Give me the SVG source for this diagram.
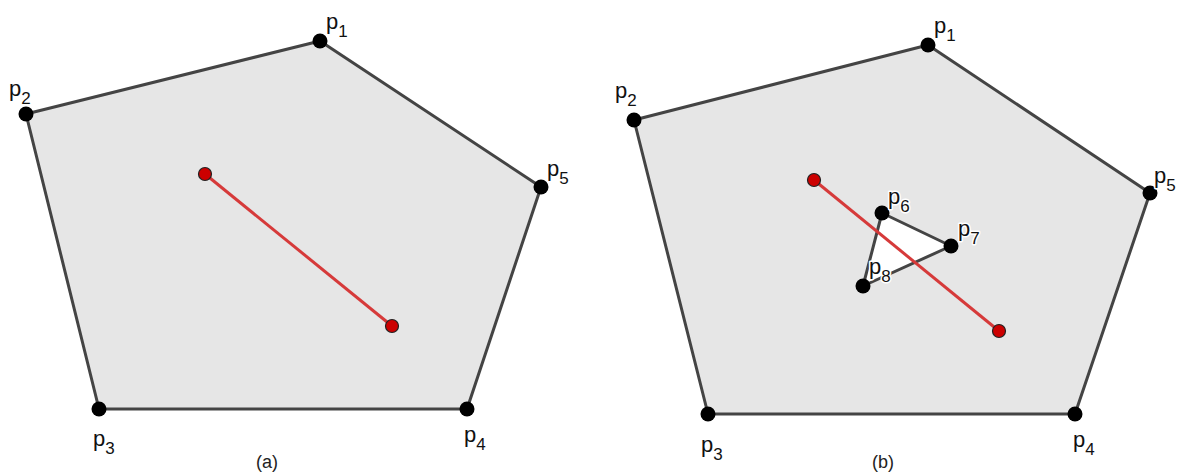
<svg xmlns="http://www.w3.org/2000/svg" width="1180" height="474" viewBox="0 0 1180 474">
<style>
.poly{fill:#e6e6e6;stroke:#444;stroke-width:3;stroke-linejoin:round}
.hole{fill:#fff;stroke:#444;stroke-width:3;stroke-linejoin:round}
.seg{stroke:#d63a3a;stroke-width:3;fill:none}
.v{fill:#000}
.r{fill:#cc0000;stroke:#222;stroke-width:1.2}
.lbl{font-family:"Liberation Sans",Arial,sans-serif;font-size:22px;fill:#111;stroke:#fff;stroke-width:3;paint-order:stroke;stroke-linejoin:round}
.sub{font-size:17px}
.cap{font-family:"Liberation Sans",Arial,sans-serif;font-size:18px;fill:#222;text-anchor:middle}
</style>
<rect width="1180" height="474" fill="#fff"/>
<g id="shapes">
<polygon class="poly" points="320,41 26,114 99,409 467,409 541,187"/>
<polygon class="poly" points="928,45 634,120 708,414 1075,414 1150,193"/>
<polygon class="hole" points="882,213 951,246 863,286"/>
</g>
<g id="connectors">
<line class="seg" x1="205" y1="174" x2="392" y2="326"/>
<line class="seg" x1="814" y1="180" x2="999" y2="331"/>
</g>
<g id="a-p1"><circle class="v" cx="320" cy="41" r="7.5"/><text class="lbl" x="326" y="29">p<tspan class="sub" dy="8">1</tspan></text></g>
<g id="a-p2"><circle class="v" cx="26" cy="114" r="7.5"/><text class="lbl" x="9" y="96">p<tspan class="sub" dy="8">2</tspan></text></g>
<g id="a-p3"><circle class="v" cx="99" cy="409" r="7.5"/><text class="lbl" x="93" y="446">p<tspan class="sub" dy="8">3</tspan></text></g>
<g id="a-p4"><circle class="v" cx="467" cy="409" r="7.5"/><text class="lbl" x="464" y="442">p<tspan class="sub" dy="8">4</tspan></text></g>
<g id="a-p5"><circle class="v" cx="541" cy="187" r="7.5"/><text class="lbl" x="547" y="176">p<tspan class="sub" dy="8">5</tspan></text></g>
<g id="a-s"><circle class="r" cx="205" cy="174" r="6.5"/></g>
<g id="a-t"><circle class="r" cx="392" cy="326" r="6.5"/></g>
<g id="b-p1"><circle class="v" cx="928" cy="45" r="7.5"/><text class="lbl" x="934" y="33">p<tspan class="sub" dy="8">1</tspan></text></g>
<g id="b-p2"><circle class="v" cx="634" cy="120" r="7.5"/><text class="lbl" x="615" y="98">p<tspan class="sub" dy="8">2</tspan></text></g>
<g id="b-p3"><circle class="v" cx="708" cy="414" r="7.5"/><text class="lbl" x="701" y="452">p<tspan class="sub" dy="8">3</tspan></text></g>
<g id="b-p4"><circle class="v" cx="1075" cy="414" r="7.5"/><text class="lbl" x="1073" y="447">p<tspan class="sub" dy="8">4</tspan></text></g>
<g id="b-p5"><circle class="v" cx="1150" cy="193" r="7.5"/><text class="lbl" x="1154" y="183">p<tspan class="sub" dy="8">5</tspan></text></g>
<g id="b-p6"><circle class="v" cx="882" cy="213" r="7.5"/><text class="lbl" x="888" y="204">p<tspan class="sub" dy="8">6</tspan></text></g>
<g id="b-p7"><circle class="v" cx="951" cy="246" r="7.5"/><text class="lbl" x="958" y="236">p<tspan class="sub" dy="8">7</tspan></text></g>
<g id="b-p8"><circle class="v" cx="863" cy="286" r="7.5"/><text class="lbl" x="869" y="274">p<tspan class="sub" dy="8">8</tspan></text></g>
<g id="b-s"><circle class="r" cx="814" cy="180" r="6.5"/></g>
<g id="b-t"><circle class="r" cx="999" cy="331" r="6.5"/></g>
<text class="cap" x="267" y="468">(a)</text>
<text class="cap" x="883" y="468">(b)</text>
</svg>
